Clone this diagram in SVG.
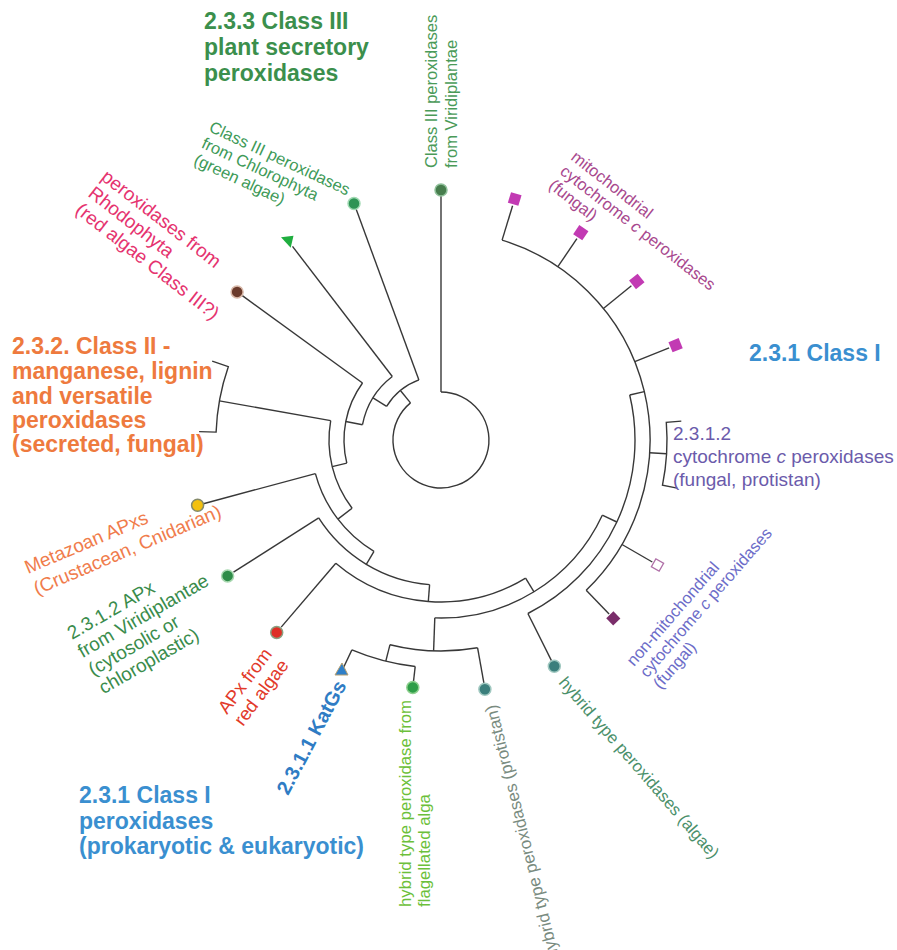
<svg xmlns="http://www.w3.org/2000/svg" width="897" height="950" viewBox="0 0 897 950">
<style>
text { font-family: "Liberation Sans", Arial, sans-serif; }
.br { fill: none; stroke: #383838; stroke-width: 1.4; }
.hd { font-weight: bold; font-size: 23px; }
.sqm { fill: #c23ab3; }
.dot { stroke-width: 1.5; }
</style>
<rect width="897" height="950" fill="#ffffff"/>

<g id="connectors">
<path class="br" d="M441,392 A48,48 0 1 1 410.5,402.9"/>
<path class="br" d="M441,392 V196"/>
<path class="br" d="M410.5,402.9 L400.4,390.5"/>
<path class="br" d="M386.6,406.3 A64,64 0 0 1 418.9,379.9"/>
<path class="br" d="M418.9,379.9 L356.1,209.1"/>
<path class="br" d="M386.6,406.3 L373.0,397.9"/>
<path class="br" d="M362.5,424.7 A80,80 0 0 1 392.3,376.5"/>
<path class="br" d="M392.3,376.5 L292.5,246.4"/>
<path class="br" d="M362.5,424.7 L345.8,421.5"/>
<path class="br" d="M346.8,463.1 A97,97 0 0 1 362.5,383.0"/>
<path class="br" d="M362.5,383 L242,295.4"/>
<path class="br" d="M346.8,463.1 L332.2,466.6"/>
<path class="br" d="M352.1,508.2 A112,112 0 0 1 330.7,420.6"/>
<path class="br" d="M330.7,420.6 L219.4,400.9"/>
<path class="br" d="M212.2,361.2 L228.3,366.7 A225,225 0 0 0 216.1,432.1 L199.1,431.6"/>
<path class="br" d="M352.1,508.2 L337.9,519.1"/>
<path class="br" d="M374.0,551.4 A130,130 0 0 1 315.4,473.6"/>
<path class="br" d="M315.4,473.6 L203.4,503.7"/>
<path class="br" d="M374.0,551.4 L366.3,564.3"/>
<path class="br" d="M429.6,584.6 A145,145 0 0 1 318.7,517.9"/>
<path class="br" d="M318.7,517.9 L233.5,572.2"/>
<path class="br" d="M429.6,584.6 L428.3,601.5"/>
<path class="br" d="M525.6,578.1 A162,162 0 0 1 335.8,563.2"/>
<path class="br" d="M335.8,563.2 L281.2,627.1"/>
<path class="br" d="M525.6,578.1 L534.0,591.8"/>
<path class="br" d="M602.3,515.2 A178,178 0 0 1 434.8,617.9"/>
<path class="br" d="M602.3,515.2 L616.8,522.0"/>
<path class="br" d="M629.7,395.0 A194,194 0 0 1 527.9,613.5"/>
<path class="br" d="M527.9,613.5 L551.6,660.9"/>
<path class="br" d="M629.7,395.0 L644.3,391.6"/>
<path class="br" d="M502.1,240.1 A209,209 0 0 1 586.2,590.3"/>
<path class="br" d="M502.1,240.1 L512.6,205.7"/>
<path class="br" d="M557.9,266.7 L576.9,238.6"/>
<path class="br" d="M603.4,308.5 L631.4,285.8"/>
<path class="br" d="M634.8,361.7 L669.1,347.8"/>
<path class="br" d="M649.6,452.8 L666.6,453.8"/>
<path class="br" d="M681.3,421.1 L666.3,422.3 A226,226 0 0 1 662.5,485.1 L677.2,488.1"/>
<path class="br" d="M622.0,544.5 L652.3,562.0"/>
<path class="br" d="M586.2,590.3 L609.1,614.1"/>
<path class="br" d="M434.8,617.9 L433.6,650.9"/>
<path class="br" d="M477.6,647.8 A211,211 0 0 1 390.0,644.7"/>
<path class="br" d="M477.6,647.8 L483.9,683.2"/>
<path class="br" d="M390.0,644.7 L385.8,661.2"/>
<path class="br" d="M415.2,666.5 A228,228 0 0 1 351.9,649.9"/>
<path class="br" d="M415.2,666.5 L413.5,681.4"/>
<path class="br" d="M351.9,649.9 L343.3,668"/>
</g>

<g id="header-class3">
<text class="hd" fill="#3b8f4c"><tspan x="204" y="29">2.3.3 Class III</tspan><tspan x="204" y="55">plant secretory</tspan><tspan x="204" y="81">peroxidases</tspan></text>
</g>

<g id="header-class2">
<text class="hd" fill="#ee7a3e"><tspan x="12" y="354">2.3.2. Class II -</tspan><tspan x="12" y="379">manganese, lignin</tspan><tspan x="12" y="404">and versatile</tspan><tspan x="12" y="428">peroxidases</tspan><tspan x="12" y="452">(secreted, fungal)</tspan></text>
</g>

<g id="header-class1">
<text class="hd" fill="#3a8fd0" x="749" y="361">2.3.1 Class I</text>
</g>

<g id="header-class1-bottom">
<text class="hd" fill="#3a8fd0"><tspan x="79" y="803">2.3.1 Class I</tspan><tspan x="79" y="829">peroxidases</tspan><tspan x="79" y="854">(prokaryotic &amp; eukaryotic)</tspan></text>
</g>

<g id="leaf-class3-viridiplantae">
<circle class="dot" cx="441" cy="190" r="6" fill="#477d4d" stroke="#8fc09a"/>
<text font-size="16.5px" fill="#4a9a58" transform="translate(437,168) rotate(-90)"><tspan x="0" y="0">Class III peroxidases</tspan><tspan x="0" y="19.5">from Viridiplantae</tspan></text>
</g>

<g id="leaf-class3-chlorophyta">
<circle class="dot" cx="354" cy="203.5" r="6" fill="#2e9455" stroke="#a2dab4"/>
<text font-size="16.5px" fill="#3e9a58" transform="translate(208,131) rotate(25)"><tspan x="0" y="0">Class III peroxidases</tspan><tspan x="0" y="18">from Chlorophyta</tspan><tspan x="0" y="36">(green algae)</tspan></text>
</g>

<g id="leaf-green-triangle">
<polygon points="281,237.3 293.5,235.8 290.7,247.8" fill="#1fae3f"/>
</g>

<g id="leaf-rhodophyta">
<circle class="dot" cx="237.1" cy="291.9" r="6" fill="#6b3b2c" stroke="#d9b9a9"/>
<text font-size="19px" fill="#e5336f" transform="translate(100,179) rotate(38)"><tspan x="0" y="0">peroxidases from</tspan><tspan x="0" y="21">Rhodophyta</tspan><tspan x="0" y="42">(red algae Class III?)</tspan></text>
</g>

<g id="leaf-metazoan-apx">
<circle class="dot" cx="197.6" cy="505.2" r="6" fill="#f3c10f" stroke="#858a6a"/>
<text font-size="19px" fill="#f07c4c" transform="translate(28,574) rotate(-23)"><tspan x="0" y="0">Metazoan APxs</tspan><tspan x="0" y="23">(Crustacean, Cnidarian)</tspan></text>
</g>

<g id="leaf-apx-viridiplantae">
<circle class="dot" cx="227.6" cy="575.9" r="6" fill="#2e8c48" stroke="#a8d8b0"/>
<text font-size="19px" fill="#3a8c4c" transform="translate(72,640) rotate(-30)"><tspan x="0" y="0">2.3.1.2 APx</tspan><tspan x="0" y="21">from Viridiplantae</tspan><tspan x="0" y="42">(cytosolic or</tspan><tspan x="0" y="63">chloroplastic)</tspan></text>
</g>

<g id="leaf-apx-red-algae">
<circle class="dot" cx="276.7" cy="632.4" r="6" fill="#de2f26" stroke="#8aa080"/>
<text font-size="18.5px" fill="#e23a2a" transform="translate(227,715) rotate(-53)"><tspan x="0" y="0">APx from</tspan><tspan x="0" y="20">red algae</tspan></text>
</g>

<g id="leaf-katg">
<polygon points="335,675 348,675 342,663" fill="#2f7fc8" stroke="#b8a070" stroke-width="1"/>
<text font-size="20px" font-weight="bold" fill="#2f7cc4" transform="translate(288,796) rotate(-62)">2.3.1.1 KatGs</text>
</g>

<g id="leaf-hybrid-flagellated">
<circle class="dot" cx="412.8" cy="687.4" r="6" fill="#2e9e48" stroke="#8fd08f"/>
<text font-size="16.8px" fill="#6cbf3a" transform="translate(411,907) rotate(-90)"><tspan x="0" y="0">hybrid type peroxidase from</tspan><tspan x="0" y="19">flagellated alga</tspan></text>
</g>

<g id="leaf-hybrid-protistan">
<circle class="dot" cx="484.9" cy="689.2" r="6" fill="#3b7f7c" stroke="#a0c8c0"/>
<text font-size="17px" fill="#798b80" text-anchor="end" transform="translate(496,704) rotate(-104)">hybrid type peroxidases (protistan)</text>
</g>

<g id="leaf-hybrid-algae">
<circle class="dot" cx="554.3" cy="666.2" r="6" fill="#3b7f7c" stroke="#a0c8c0"/>
<text font-size="16.8px" fill="#4a8f6a" transform="translate(558,683) rotate(49)">hybrid type peroxidases (algae)</text>
</g>

<g id="leaf-nonmito-ccp">
<rect x="-5" y="-5" width="10" height="10" fill="#7a2d6a" transform="translate(613.3,618.4) rotate(46)"/>
<rect x="-4.5" y="-4.5" width="9" height="9" fill="#ffffff" stroke="#b070a8" stroke-width="1.3" transform="translate(657.5,565) rotate(30)"/>
<text font-size="16.5px" fill="#6c6cc8" transform="translate(634,667) rotate(-49)"><tspan x="0" y="0">non-mitochondrial</tspan><tspan x="0" y="17.5">cytochrome <tspan font-style="italic">c</tspan> peroxidases</tspan><tspan x="0" y="35">(fungal)</tspan></text>
</g>

<g id="clade-ccp-2312">
<text font-size="19px" fill="#6b5bab"><tspan x="673" y="440">2.3.1.2</tspan><tspan x="673" y="463">cytochrome <tspan font-style="italic">c</tspan> peroxidases</tspan><tspan x="673" y="486">(fungal, protistan)</tspan></text>
</g>

<g id="leaf-mito-ccp">
<rect class="sqm" x="-5.5" y="-5.5" width="11" height="11" transform="translate(514.7,199) rotate(17)"/>
<rect class="sqm" x="-5.5" y="-5.5" width="11" height="11" transform="translate(580.8,232.7) rotate(34)"/>
<rect class="sqm" x="-5.5" y="-5.5" width="11" height="11" transform="translate(636.8,281.4) rotate(51)"/>
<rect class="sqm" x="-5.5" y="-5.5" width="11" height="11" transform="translate(675.6,345.2) rotate(68)"/>
<text font-size="16.5px" fill="#a8488e" transform="translate(570,159) rotate(38)"><tspan x="0" y="0">mitochondrial</tspan><tspan x="0" y="18">cytochrome <tspan font-style="italic">c</tspan> peroxidases</tspan><tspan x="0" y="36">(fungal)</tspan></text>
</g>
</svg>
